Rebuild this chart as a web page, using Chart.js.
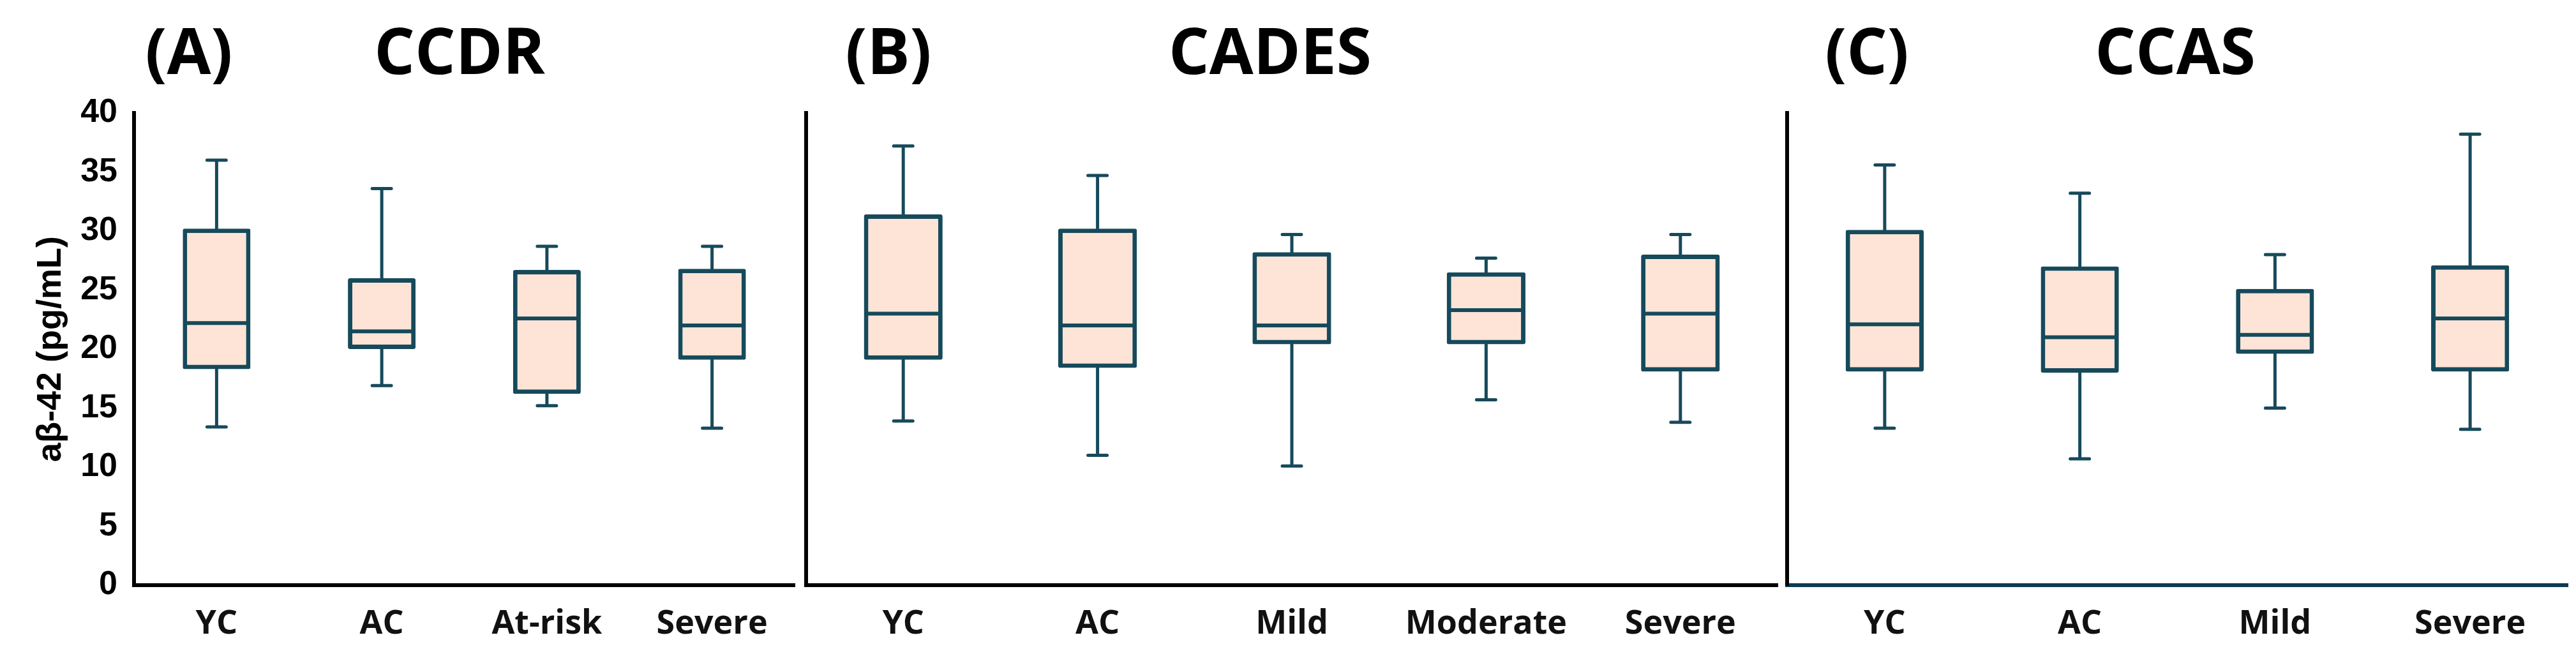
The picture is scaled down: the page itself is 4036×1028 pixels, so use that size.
<!DOCTYPE html>
<html>
<head>
<meta charset="utf-8">
<script src="https://cdn.jsdelivr.net/npm/chart.js@4.4.1/dist/chart.umd.min.js"></script>
<style>
  body { margin: 0; background: #fff; width: 4036px; height: 1028px; position: relative; overflow: hidden; }
  canvas { position: absolute; top: 0; }
</style>
</head>
<body>
<canvas id="chartA" width="1255" height="1028" style="left:0px"></canvas>
<canvas id="chartB" width="1545" height="1028" style="left:1250px"></canvas>
<canvas id="chartC" width="1246" height="1028" style="left:2790px"></canvas>
<script>
// y axis ticks (pg/mL)
const yTickValues = [0, 5, 10, 15, 20, 25, 30, 35, 40];

// (A) CCDR
const ccdrGroups = ['YC', 'AC', 'At-risk', 'Severe'];
const ccdrMin = [13.4, 16.9, 15.2, 13.3];
const ccdrQ1 = [18.3, 20.0, 16.2, 19.1];
const ccdrMedian = [22.2, 21.5, 22.6, 22.0];
const ccdrQ3 = [30.2, 26.0, 26.7, 26.8];
const ccdrMax = [36.0, 33.6, 28.7, 28.7];

// (B) CADES
const cadesGroups = ['YC', 'AC', 'Mild', 'Moderate', 'Severe'];
const cadesMin = [13.9, 11.0, 10.1, 15.7, 13.8];
const cadesQ1 = [19.1, 18.4, 20.4, 20.4, 18.1];
const cadesMedian = [23.0, 22.0, 22.0, 23.3, 23.0];
const cadesQ3 = [31.4, 30.2, 28.2, 26.5, 28.0];
const cadesMax = [37.2, 34.7, 29.7, 27.7, 29.7];

// (C) CCAS
const ccasGroups = ['YC', 'AC', 'Mild', 'Severe'];
const ccasMin = [13.3, 10.7, 15.0, 13.2];
const ccasQ1 = [18.1, 18.0, 19.6, 18.1];
const ccasMedian = [22.1, 21.0, 21.2, 22.6];
const ccasQ3 = [30.1, 27.0, 25.1, 27.1];
const ccasMax = [35.6, 33.2, 28.0, 38.2];

const boxFill = '#fde4d6';
const boxLine = '#164a5b';

// whiskers under the boxes, medians on top
const boxPlugin = {
  id: 'boxParts',
  beforeDatasetsDraw(chart) {
    const ds = chart.data.datasets[0];
    const x = chart.scales.x, y = chart.scales.y;
    const ctx = chart.ctx;
    ctx.save();
    ctx.strokeStyle = boxLine;
    ctx.lineWidth = 5;
    ctx.lineCap = 'round';
    ds.data.forEach((box, i) => {
      const cx = x.getPixelForValue(i);
      const yHi = y.getPixelForValue(ds.high[i]);
      const yLo = y.getPixelForValue(ds.low[i]);
      ctx.beginPath();
      ctx.moveTo(cx, yHi); ctx.lineTo(cx, y.getPixelForValue(box[1]));
      ctx.moveTo(cx, y.getPixelForValue(box[0])); ctx.lineTo(cx, yLo);
      ctx.moveTo(cx - 15, yHi); ctx.lineTo(cx + 15, yHi);
      ctx.moveTo(cx - 15, yLo); ctx.lineTo(cx + 15, yLo);
      ctx.stroke();
    });
    ctx.restore();
  },
  afterDatasetsDraw(chart) {
    const ds = chart.data.datasets[0];
    const meta = chart.getDatasetMeta(0);
    const y = chart.scales.y;
    const ctx = chart.ctx;
    ctx.save();
    ctx.strokeStyle = boxLine;
    ctx.lineWidth = 6;
    meta.data.forEach((bar, i) => {
      const ym = y.getPixelForValue(ds.median[i]);
      ctx.beginPath();
      ctx.moveTo(bar.x - bar.width / 2 + 4, ym);
      ctx.lineTo(bar.x + bar.width / 2 - 4, ym);
      ctx.stroke();
    });
    ctx.restore();
  }
};

// panel letters and titles
const titlePlugin = {
  id: 'panelTitles',
  afterDraw(chart, args, opts) {
    const ctx = chart.ctx;
    ctx.save();
    ctx.font = '700 100px "Open Sans"';
    ctx.fillStyle = '#000';
    ctx.textAlign = 'center';
    ctx.textBaseline = 'alphabetic';
    opts.items.forEach(t => ctx.fillText(t.text, t.x, 116));
    ctx.restore();
  }
};

function makeBoxChart(id, groups, low, q1, median, q3, high, cfg) {
  return new Chart(document.getElementById(id), {
    type: 'bar',
    data: {
      labels: groups,
      datasets: [{
        data: q1.map((v, i) => [v, q3[i]]),
        low: low,
        high: high,
        median: median,
        backgroundColor: boxFill,
        borderColor: boxLine,
        borderWidth: 7,
        borderRadius: 3,
        borderSkipped: false,
        barPercentage: cfg.barPct,
        categoryPercentage: 1
      }]
    },
    options: {
      responsive: false,
      animation: false,
      events: [],
      layout: { padding: { top: 177, left: cfg.padLeft, right: cfg.padRight, bottom: 0 } },
      plugins: {
        legend: { display: false },
        tooltip: { enabled: false },
        panelTitles: { items: cfg.titles }
      },
      scales: {
        x: {
          grid: { display: false, drawTicks: false },
          border: { display: true, color: cfg.xBorder, width: 6 },
          ticks: {
            color: '#111',
            padding: 30,
            font: { family: 'Open Sans', weight: '700', size: 52 }
          },
          afterFit: s => { s.height = 111; }
        },
        y: {
          min: 0,
          max: 40,
          grid: { display: false, drawTicks: false },
          border: { display: true, color: '#000', width: 6 },
          afterBuildTicks: s => { s.ticks = yTickValues.map(v => ({ value: v })); },
          ticks: {
            display: cfg.showY,
            color: '#000',
            padding: 26,
            font: { family: 'Liberation Sans', weight: 'bold', size: 52 }
          },
          title: {
            display: cfg.showY,
            text: 'aβ-42 (pg/mL)',
            color: '#000',
            padding: { top: 48, bottom: 0 },
            font: { family: 'Liberation Sans', weight: 'bold', size: 54 }
          },
          afterFit: s => { s.width = cfg.showY ? 210 : 0; }
        }
      }
    },
    plugins: [boxPlugin, titlePlugin]
  });
}

makeBoxChart('chartA', ccdrGroups, ccdrMin, ccdrQ1, ccdrMedian, ccdrQ3, ccdrMax, {
  barPct: 0.41, padLeft: 0, padRight: 10, showY: true, xBorder: '#000',
  titles: [{ text: '(A)', x: 296 }, { text: 'CCDR', x: 720 }]
});
makeBoxChart('chartB', cadesGroups, cadesMin, cadesQ1, cadesMedian, cadesQ3, cadesMax, {
  barPct: 0.405, padLeft: 13, padRight: 10, showY: false, xBorder: '#000',
  titles: [{ text: '(B)', x: 1392 - 1250 }, { text: 'CADES', x: 1990 - 1250 }]
});
makeBoxChart('chartC', ccasGroups, ccasMin, ccasQ1, ccasMedian, ccasQ3, ccasMax, {
  barPct: 0.40, padLeft: 10, padRight: 13, showY: false, xBorder: '#0b3c50',
  titles: [{ text: '(C)', x: 2925 - 2790 }, { text: 'CCAS', x: 3408 - 2790 }]
});
</script>
</body>
</html>
